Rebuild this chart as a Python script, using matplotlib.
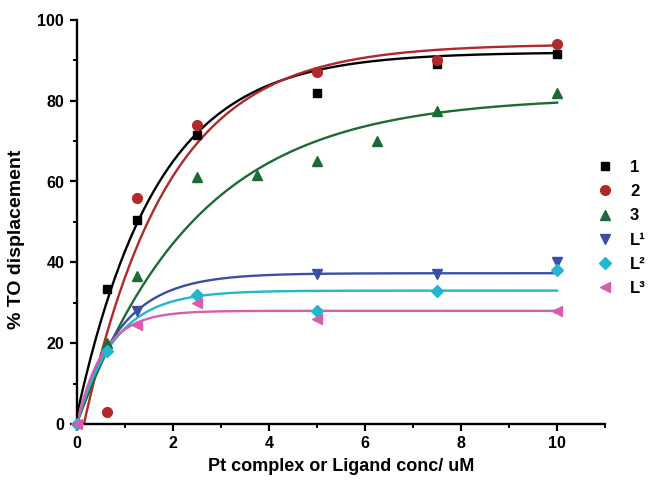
import numpy as np
import matplotlib
matplotlib.use("Agg")
import matplotlib.pyplot as plt
from matplotlib.ticker import MultipleLocator

plt.rcParams['font.family'] = ['Liberation Sans', 'DejaVu Sans']
plt.rcParams['font.weight'] = 'bold'

# data
labels = ['1', '2', '3', 'L\u00b9', 'L\u00b2', 'L\u00b3']
x1 = [0.625, 1.25, 2.5, 5, 7.5, 10]
y1 = [33.5, 50.5, 71.5, 82, 89, 91.5]
x2 = [0.625, 1.25, 2.5, 5, 7.5, 10]
y2 = [3, 56, 74, 87, 90, 94]
x3 = [0.625, 1.25, 2.5, 3.75, 5, 6.25, 7.5, 10]
y3 = [20, 36.5, 61, 61.5, 65, 70, 77.5, 82]
xL1 = [1.25, 5, 7.5, 10]
yL1 = [28, 37, 37, 40]
xL2 = [0, 0.625, 2.5, 5, 7.5, 10]
yL2 = [0, 18, 32, 28, 33, 38]
xL3 = [0, 1.25, 2.5, 5, 10]
yL3 = [0, 24.5, 30, 26, 28]

# exponential fit parameters: y = y0 + A*(1-exp(-k*(x-x0)))
fit_A = [90, 94, 81, 37.3, 33, 28]
fit_k = [0.60, 0.57, 0.40, 1.11, 1.26, 1.8]
fit_x0 = [0, 0.15, 0, 0, 0, 0]
fit_y0 = [2, 0, 0, 0, 0, 0]

colors = ['#000000', '#b0282a', '#1c6b36', '#3a4ea6', '#22b7cf', '#d65eae']
markers = ['s', 'o', '^', 'v', 'D', '<']
msizes = [6, 7, 7, 7, 6, 7]

xs = [x1, x2, x3, xL1, xL2, xL3]
ys = [y1, y2, y3, yL1, yL2, yL3]

fig = plt.figure(figsize=(6.5, 4.84), dpi=100)
ax = fig.add_axes([0.118, 0.124, 0.813, 0.835])

xf = np.linspace(0, 10, 300)
for i in range(6):
    yf = fit_y0[i] + fit_A[i] * (1 - np.exp(-fit_k[i] * (xf - fit_x0[i])))
    ax.plot(xf, yf, color=colors[i], lw=1.7, zorder=2)
for i in range(6):
    ax.plot(xs[i], ys[i], linestyle='none', marker=markers[i], color=colors[i],
            markersize=msizes[i], label=labels[i], zorder=3, clip_on=False)

ax.set_xlim(0, 11)
ax.set_ylim(0, 100)
ax.set_xticks([0, 2, 4, 6, 8, 10])
ax.xaxis.set_minor_locator(MultipleLocator(1))
ax.yaxis.set_major_locator(MultipleLocator(20))
ax.yaxis.set_minor_locator(MultipleLocator(10))
for s in ['top', 'right']:
    ax.spines[s].set_visible(False)
for s in ['left', 'bottom']:
    ax.spines[s].set_linewidth(1.7)
ax.tick_params(which='major', length=5, width=1.6, labelsize=11.5, direction='out', pad=4)
ax.tick_params(which='minor', length=3, width=1.4, direction='out')
for lab in ax.get_xticklabels() + ax.get_yticklabels():
    lab.set_fontweight('bold')

ax.set_xlabel('Pt complex or Ligand conc/ uM', fontsize=13, fontweight='bold')
ax.set_ylabel('% TO displacement', fontsize=14, fontweight='bold')
ax.xaxis.set_label_coords(0.5, -0.106)
ax.xaxis.label.set_va('center')
ax.yaxis.set_label_coords(-0.114, 0.458)
ax.yaxis.label.set_va('center')

leg = ax.legend(loc='center left', bbox_to_anchor=(590 / 650, 0.529),
                bbox_transform=fig.transFigure, frameon=False,
                fontsize=12, handletextpad=1.0, handlelength=1.0,
                labelspacing=0.55, borderaxespad=0)
for t in leg.get_texts():
    t.set_fontweight('bold')

fig.savefig('out.png', dpi=100)
